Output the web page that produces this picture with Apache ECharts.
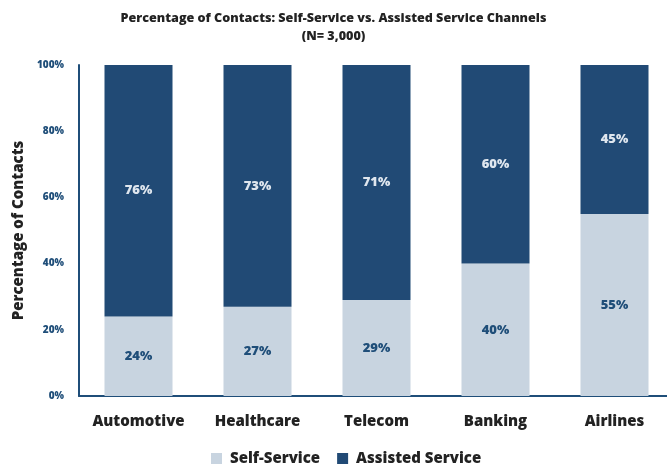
<!DOCTYPE html>
<html>
<head>
<meta charset="utf-8">
<script src="https://cdn.jsdelivr.net/npm/echarts@6/dist/echarts.min.js"></script>
<style>
html,body{margin:0;padding:0;background:#fff;}
#chart{width:667px;height:471px;}
</style>
</head>
<body>
<div id="chart"></div>
<script>
const categories = ['Automotive', 'Healthcare', 'Telecom', 'Banking', 'Airlines'];
const selfService = [24, 27, 29, 40, 55];
const assistedService = [76, 73, 71, 60, 45];
const yTicks = [0, 20, 40, 60, 80, 100];

const FONT = '"Open Sans", Lato, "DejaVu Sans", sans-serif';
const W = 800;
const chart = echarts.init(document.getElementById('chart'), null, {renderer: 'canvas'});
chart.setOption({
  backgroundColor: '#ffffff',
  animation: false,
  title: {
    text: 'Percentage of Contacts: Self-Service vs. Assisted Service Channels\n(N= 3,000)',
    left: 'center',
    top: 4,
    textStyle: {fontFamily: FONT, fontWeight: W, fontSize: 12.6, color: '#222222', lineHeight: 18}
  },
  legend: {
    bottom: 0,
    left: 206,
    itemWidth: 11,
    itemHeight: 11,
    itemGap: 17,
    icon: 'rect',
    textStyle: {fontFamily: FONT, fontWeight: W, fontSize: 15, color: '#222222', padding: [0, 0, 0, 3]},
    data: ['Self-Service', 'Assisted Service']
  },
  grid: {left: 79, top: 65, width: 595, height: 331, containLabel: false, outerBoundsMode: 'none'},
  xAxis: {
    type: 'category',
    data: categories,
    axisLine: {lineStyle: {color: '#1f4e79', width: 2}},
    axisTick: {show: false},
    axisLabel: {interval: 0, fontFamily: FONT, fontWeight: W, fontSize: 15, color: '#222222', margin: 18}
  },
  yAxis: {
    type: 'value',
    min: 0,
    max: 100,
    interval: 20,
    name: 'Percentage of Contacts',
    nameLocation: 'middle',
    nameGap: 52,
    nameTextStyle: {fontFamily: FONT, fontWeight: W, fontSize: 15, color: '#222222'},
    axisLine: {show: true, lineStyle: {color: '#1f4e79', width: 2}},
    axisTick: {show: false},
    splitLine: {show: false},
    axisLabel: {
      fontFamily: FONT, fontWeight: W, fontSize: 10, color: '#1f4e79', margin: 15,
      formatter: v => yTicks.includes(v) ? v + '%' : ''
    }
  },
  series: [
    {
      name: 'Self-Service',
      type: 'bar',
      stack: 'total',
      data: selfService,
      barWidth: 68,
      itemStyle: {color: '#c8d4e0'},
      label: {show: true, position: 'inside', formatter: '{c}%', fontFamily: FONT, fontWeight: W, fontSize: 13, color: '#1f4e79'}
    },
    {
      name: 'Assisted Service',
      type: 'bar',
      stack: 'total',
      data: assistedService,
      barWidth: 68,
      itemStyle: {color: '#214a75'},
      label: {show: true, position: 'inside', formatter: '{c}%', fontFamily: FONT, fontWeight: W, fontSize: 13, color: '#dfe6ee'}
    }
  ]
});
</script>
</body>
</html>
